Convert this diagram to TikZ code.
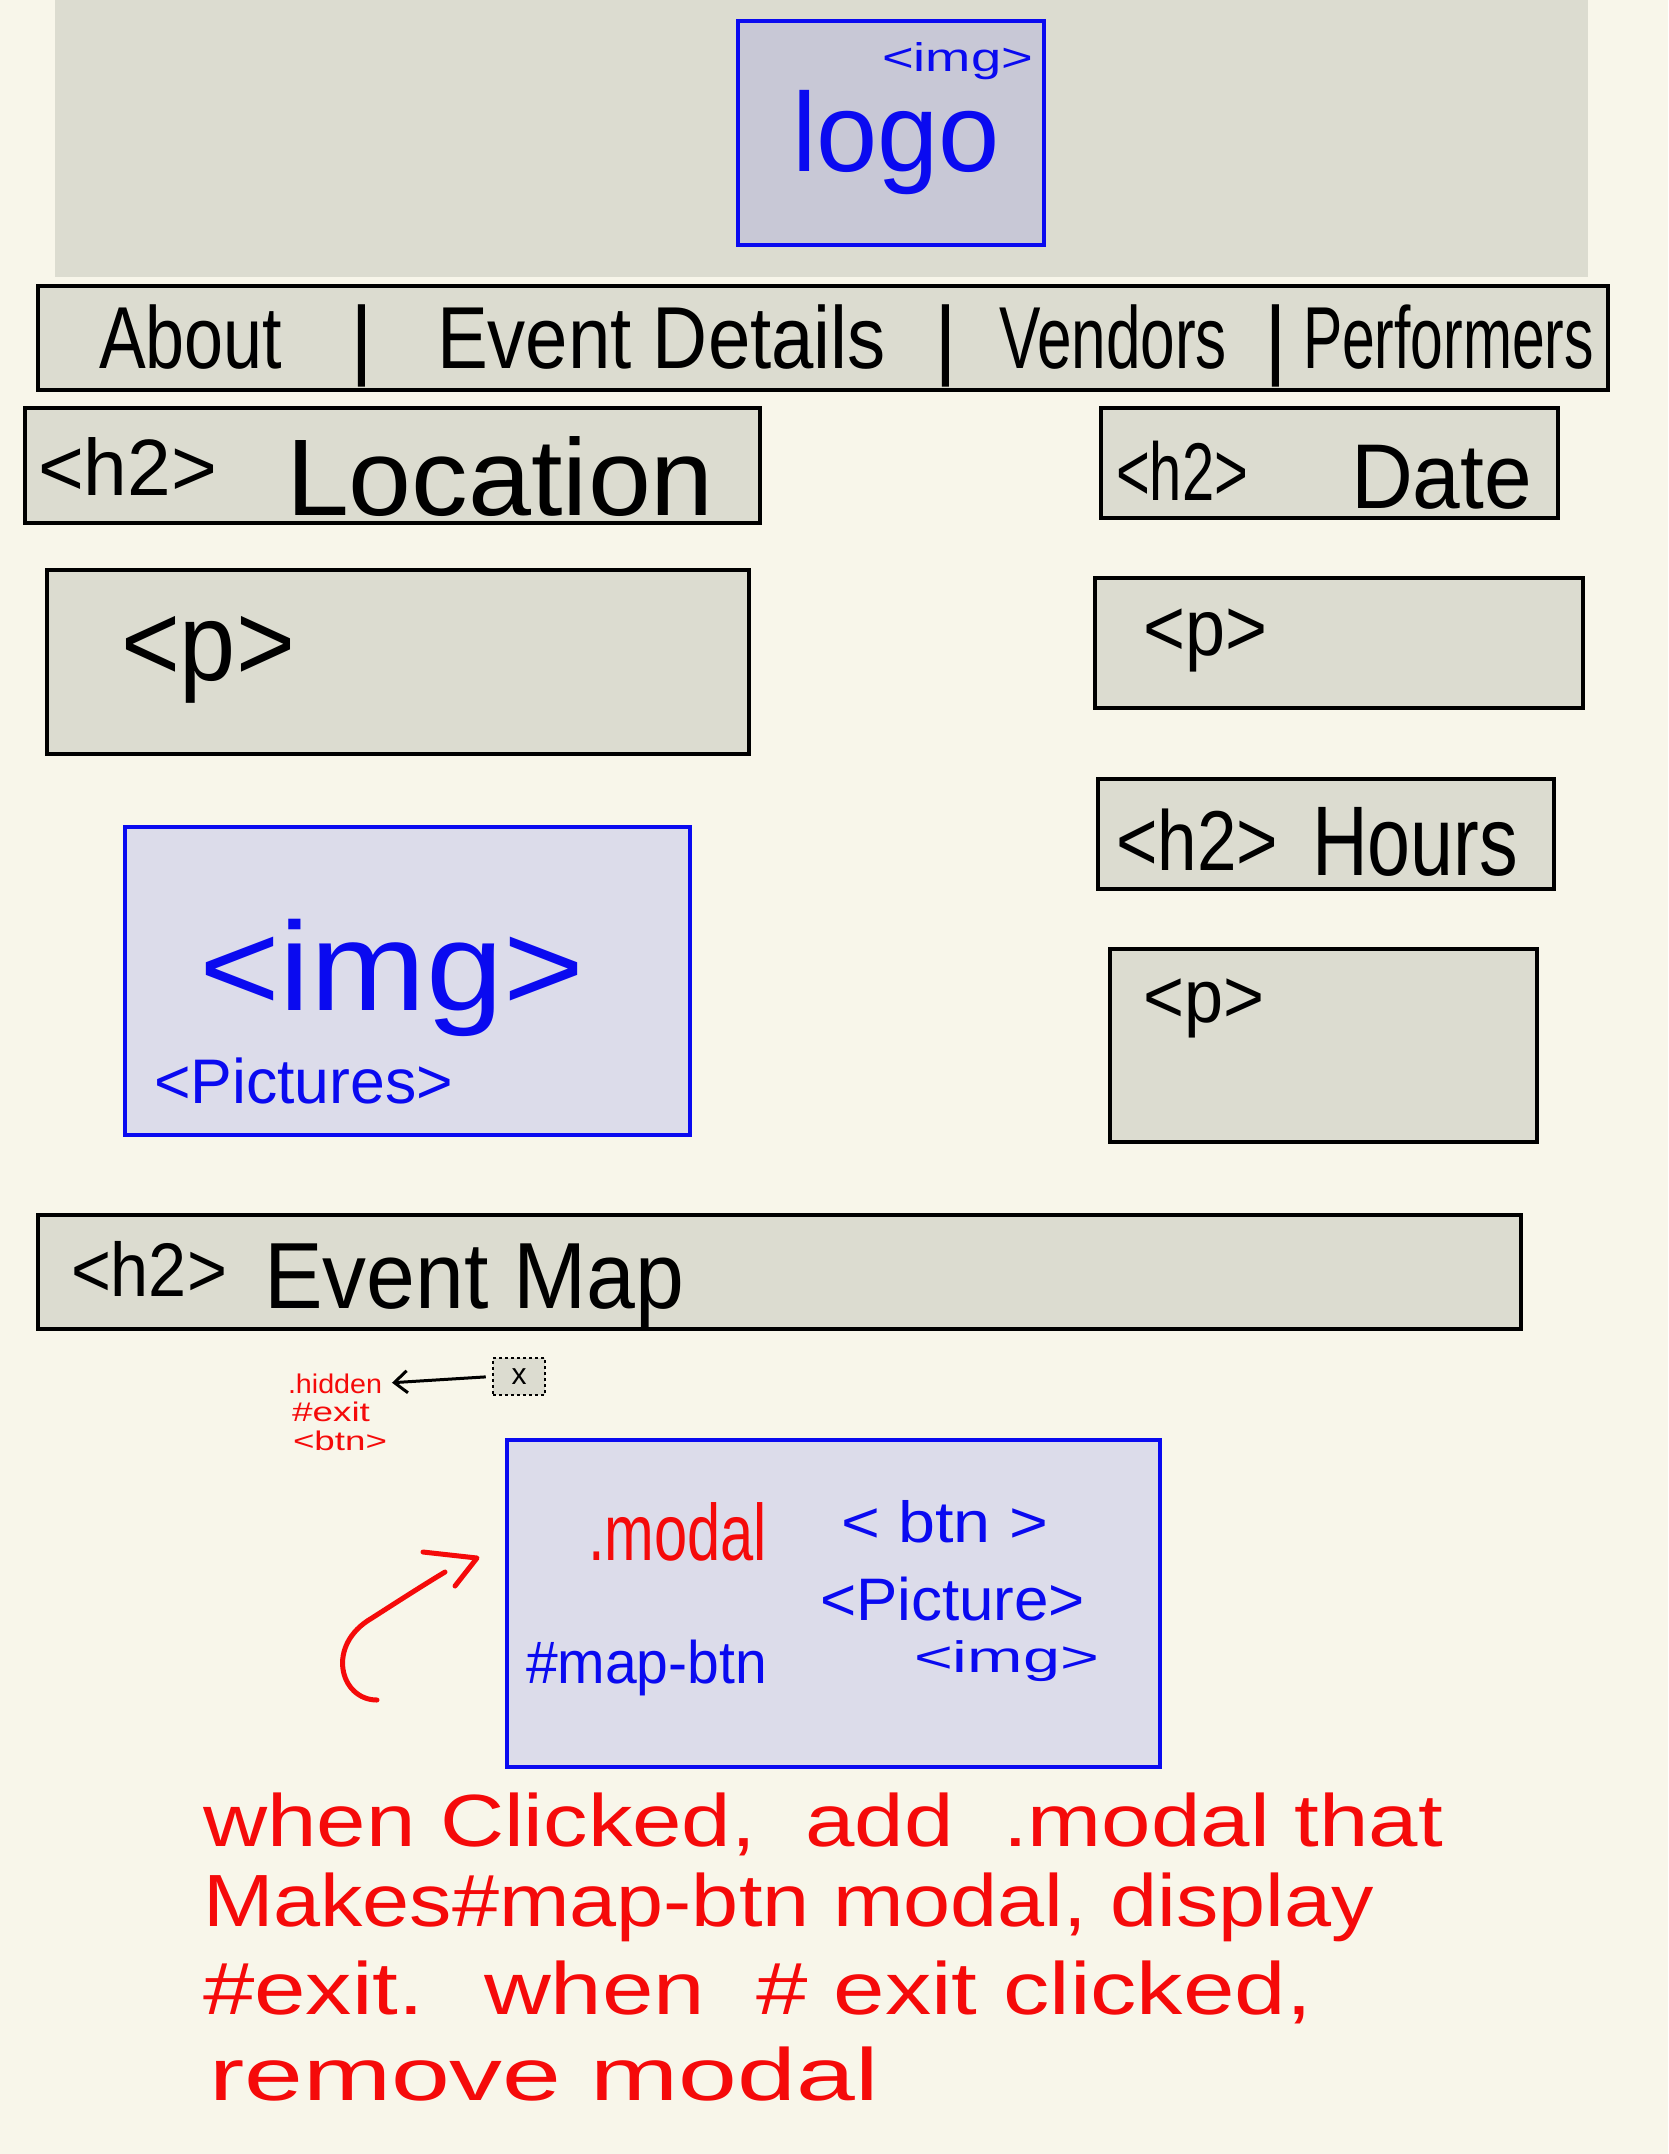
\documentclass[tikz,border=0pt]{standalone}
\usepackage{fontspec}
\setmainfont{Liberation Sans}
\usetikzlibrary{arrows.meta}
\definecolor{paper}{HTML}{F8F6EA}
\definecolor{boxgray}{HTML}{DCDCD0}
\definecolor{logofill}{HTML}{C8C8D6}
\definecolor{bluefill}{HTML}{DCDCEA}
\definecolor{inkblue}{HTML}{0A0AF0}
\definecolor{inkred}{HTML}{F50A0A}
\newcommand\tx[3]{\resizebox{#1pt}{\height}{\fontsize{#2pt}{#2pt}\selectfont #3}}
\tikzset{
  graybox/.style={draw=black, line width=4.5pt, fill=boxgray, inner sep=0, outer sep=0},
  bluebox/.style={draw=inkblue, line width=4.5pt, fill=bluefill, inner sep=0, outer sep=0},
  txt/.style={inner sep=0, outer sep=0, anchor=base west},
  blk/.style={txt, text=black},
  blu/.style={txt, text=inkblue},
  rd/.style={txt, text=inkred},
}
\begin{document}
\begin{tikzpicture}[x=1pt,y=-1pt]
\useasboundingbox (0,0) rectangle (1668,2154);
\fill[paper] (0,0) rectangle (1668,2154);
% header
\node[fill=boxgray, inner sep=0, minimum width=1533pt, minimum height=277pt] (header) at (821.5,138.5) {};
\node[draw=inkblue, line width=4.5pt, fill=logofill, inner sep=0, minimum width=306pt, minimum height=224pt] (logo) at (891,133) {};
\node[blu] (logoimg) at (882,72) {\tx{151}{40}{<img>}};
\node[blu] (logotxt) at (792,172) {\tx{208}{112}{logo}};
% nav
\node[graybox, minimum width=1570pt, minimum height=104pt] (nav) at (823,338) {};
\node[blk] (about) at (99,368) {\tx{183}{88}{About}};
\node[blk] (sep1) at (350,368) {\fontsize{88pt}{88pt}\selectfont |};
\node[blk] (details) at (437,368) {\tx{449}{88}{Event Details}};
\node[blk] (sep2) at (934,368) {\fontsize{88pt}{88pt}\selectfont |};
\node[blk] (vendors) at (999,368) {\tx{228}{88}{Vendors}};
\node[blk] (sep3) at (1264,368) {\fontsize{88pt}{88pt}\selectfont |};
\node[blk] (performers) at (1303,368) {\tx{291}{88}{Performers}};
% location
\node[graybox, minimum width=735pt, minimum height=115pt] (loc) at (392.5,465.5) {};
\node[blk] (loch2) at (38,495) {\tx{179}{80}{<h2>}};
\node[blk] (loctxt) at (286,515) {\tx{428}{109}{Location}};
% date
\node[graybox, minimum width=457pt, minimum height=110pt] (date) at (1329.5,463) {};
\node[blk] (dateh2) at (1116,500) {\tx{132}{82}{<h2>}};
\node[blk] (datetxt) at (1351,508) {\tx{181}{92}{Date}};
% p boxes
\node[graybox, minimum width=702pt, minimum height=184pt] (p1) at (398,662) {};
\node[blk] (p1t) at (121,680) {\tx{174}{110}{<p>}};
\node[graybox, minimum width=488pt, minimum height=130pt] (p2) at (1339,643) {};
\node[blk] (p2t) at (1143,655) {\tx{124}{80}{<p>}};
% hours
\node[graybox, minimum width=456pt, minimum height=110pt] (hours) at (1326,834) {};
\node[blk] (hoursh2) at (1116,870) {\tx{162}{85}{<h2>}};
\node[blk] (hourstxt) at (1312,875) {\tx{206}{99}{Hours}};
\node[graybox, minimum width=427pt, minimum height=193pt] (p3) at (1323.5,1045.5) {};
\node[blk] (p3t) at (1143,1022) {\tx{121}{75}{<p>}};
% img box
\node[bluebox, minimum width=565pt, minimum height=308pt] (img) at (407.5,981) {};
\node[blu] (imgt) at (199,1010) {\tx{385}{126}{<img>}};
\node[blu] (pict) at (154,1103) {\tx{299}{63}{<Pictures>}};
% event map
\node[graybox, minimum width=1483pt, minimum height=114pt] (map) at (779.5,1272) {};
\node[blk] (maph2) at (71,1296) {\tx{156}{76}{<h2>}};
\node[blk] (maptxt) at (264,1308) {\tx{420}{94}{Event Map}};
% exit button
\node[draw=black, dashed, line width=2.5pt, fill=boxgray, inner sep=0, minimum width=52pt, minimum height=37pt, font=\fontsize{30pt}{30pt}\selectfont] (xbox) at (519,1376.5) {x};
\node[rd] (hidden) at (288,1393) {\tx{94}{27}{.hidden}};
\node[rd] (exit) at (292,1421) {\tx{78}{27}{\#exit}};
\node[rd] (btnsmall) at (293,1450) {\tx{94}{27}{<btn>}};
\draw[line width=3pt, -{Straight Barb[length=13pt,width=22pt,line width=3pt]}, shorten >=10pt, shorten <=6pt] (xbox.west) -- (hidden.east);
% modal
\node[bluebox, minimum width=653pt, minimum height=327pt] (modal) at (833.5,1603.5) {};
\node[rd] (modalcls) at (588,1560) {\tx{179}{80}{.modal}};
\node[blu] (btn) at (841,1542) {\tx{207}{58}{< btn >}};
\node[blu] (picture) at (820,1620) {\tx{265}{60}{<Picture>}};
\node[blu] (mimg) at (914,1672) {\tx{185}{44}{<img>}};
\node[blu] (mapbtn) at (526,1683) {\tx{241}{60}{\#map-btn}};
% red curved arrow
\coordinate (cstart) at (377,1700);
\coordinate (cend) at (445,1572);
\coordinate (hA) at (423,1552);
\coordinate (hT) at (477,1558);
\coordinate (hB) at (455,1586);
\draw[inkred, line width=5pt, line cap=round] (cstart) .. controls (340,1700) and (325,1645) .. (372,1618) .. controls (400,1600) and (425,1584) .. (cend);
\draw[inkred, line width=5pt, line cap=round, line join=round] (hA) -- (hT) -- (hB);
% note
\node[rd] (note1) at (203,1846) {\tx{1240}{74}{when Clicked, \ add \ .modal that}};
\node[rd] (note2) at (203,1926) {\tx{1171}{74}{Makes\#map-btn modal, display}};
\node[rd] (note3) at (203,2014) {\tx{1109}{74}{\#exit. \ when \ \# exit clicked,}};
\node[rd] (note4) at (209,2100) {\tx{670}{74}{remove modal}};
\end{tikzpicture}
\end{document}
